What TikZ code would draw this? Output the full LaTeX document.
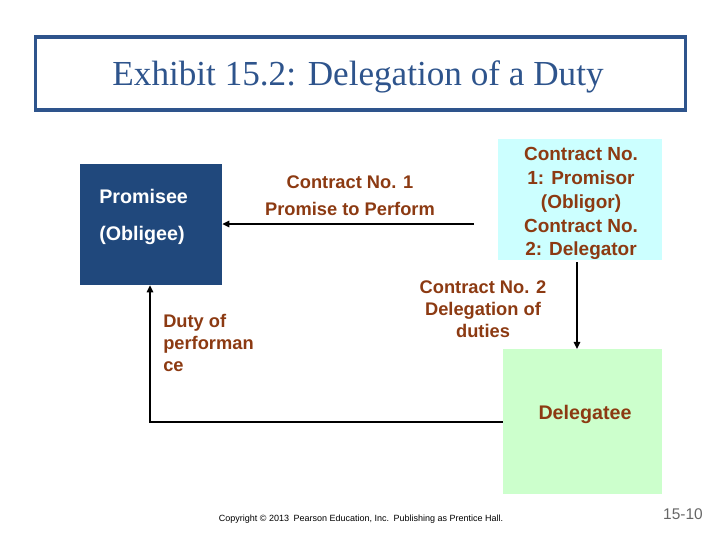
\documentclass[tikz,border=0pt]{standalone}
\usepackage{fontspec}
\setmainfont{Liberation Sans}
\newfontfamily\titlefont{Liberation Serif}
\usetikzlibrary{arrows.meta}
\definecolor{titleblue}{RGB}{46,84,140}
\definecolor{boxblue}{RGB}{32,72,124}
\definecolor{brownlbl}{RGB}{140,58,18}
\definecolor{cyanfill}{RGB}{204,255,255}
\definecolor{greenfill}{RGB}{204,255,204}
\tikzset{
  px/.style={x=0.025cm,y=-0.025cm},
  lbl/.style={font=\bfseries\fontsize{13}{17}\selectfont, text=brownlbl, inner sep=0pt},
  conn/.style={line width=1.4pt, -{Triangle[length=5pt,width=4.5pt]}},
  plainline/.style={line width=1.4pt}
}
\begin{document}
\begin{tikzpicture}[px]
\useasboundingbox (0,0) rectangle (720,540);
% title
\node[draw=titleblue, line width=2.2pt, minimum width=16.225cm, minimum height=1.825cm] (title) at (360.5,73.5) {};
\node[font=\titlefont\fontsize{25}{30}\selectfont, text=titleblue, inner sep=0pt] (titletext) at (358,77)
      {Exhibit 15.2: Delegation of a Duty};
% boxes
\node[fill=boxblue, minimum width=3.55cm, minimum height=3.025cm, inner sep=0pt] (promisee) at (151,224.5) {};
\node[anchor=west, align=left, text=white, font=\bfseries\fontsize{14}{26}\selectfont, inner sep=0pt] (promtext) at (99,217) {Promisee\\(Obligee)};
\node[fill=cyanfill, minimum width=4.1cm, minimum height=3.025cm, inner sep=0pt] (promisor) at (580,199.5) {};
\node[lbl, align=center, font=\bfseries\fontsize{13.5}{17}\selectfont] (promisortext) at (581,203.5) {Contract No.\\1: Promisor\\(Obligor)\\Contract No.\\2: Delegator};
\node[fill=greenfill, minimum width=3.975cm, minimum height=3.625cm, inner sep=0pt] (delegatee) at (582.5,421.5) {};
\node[lbl, font=\bfseries\fontsize{14}{17}\selectfont] (deltext) at (585,414) {Delegatee};
% labels
\node[lbl, align=center, font=\bfseries\fontsize{13}{19.5}\selectfont] (c1) at (350,195.5) {Contract No. 1\\Promise to Perform};
\node[lbl, align=center, font=\bfseries\fontsize{13}{15.5}\selectfont] (c2) at (483,309) {Contract No. 2\\Delegation of\\duties};
\node[lbl, align=left, anchor=north west, font=\bfseries\fontsize{13}{15.5}\selectfont] (duty) at (163,314) {Duty of\\performan\\ce};
% connectors
\coordinate (c1start) at (474,224);
\draw[conn] (c1start) -- (promisee.east |- c1start);
\draw[conn] (577,262) -- (577,349);
\coordinate (corner) at (150,422);
\draw[conn] (delegatee.west |- corner) -- (corner) -- (corner |- promisee.south);
% footer
\node[font=\fontsize{6.4}{7}\selectfont, inner sep=0pt] (copy) at (361,519) {Copyright \textcopyright{} 2013\enspace Pearson Education, Inc.\enspace Publishing as Prentice Hall.};
\node[font=\fontsize{11}{12}\selectfont, text=black!60, inner sep=0pt] (pg) at (683,514) {15-10};
\end{tikzpicture}
\end{document}
